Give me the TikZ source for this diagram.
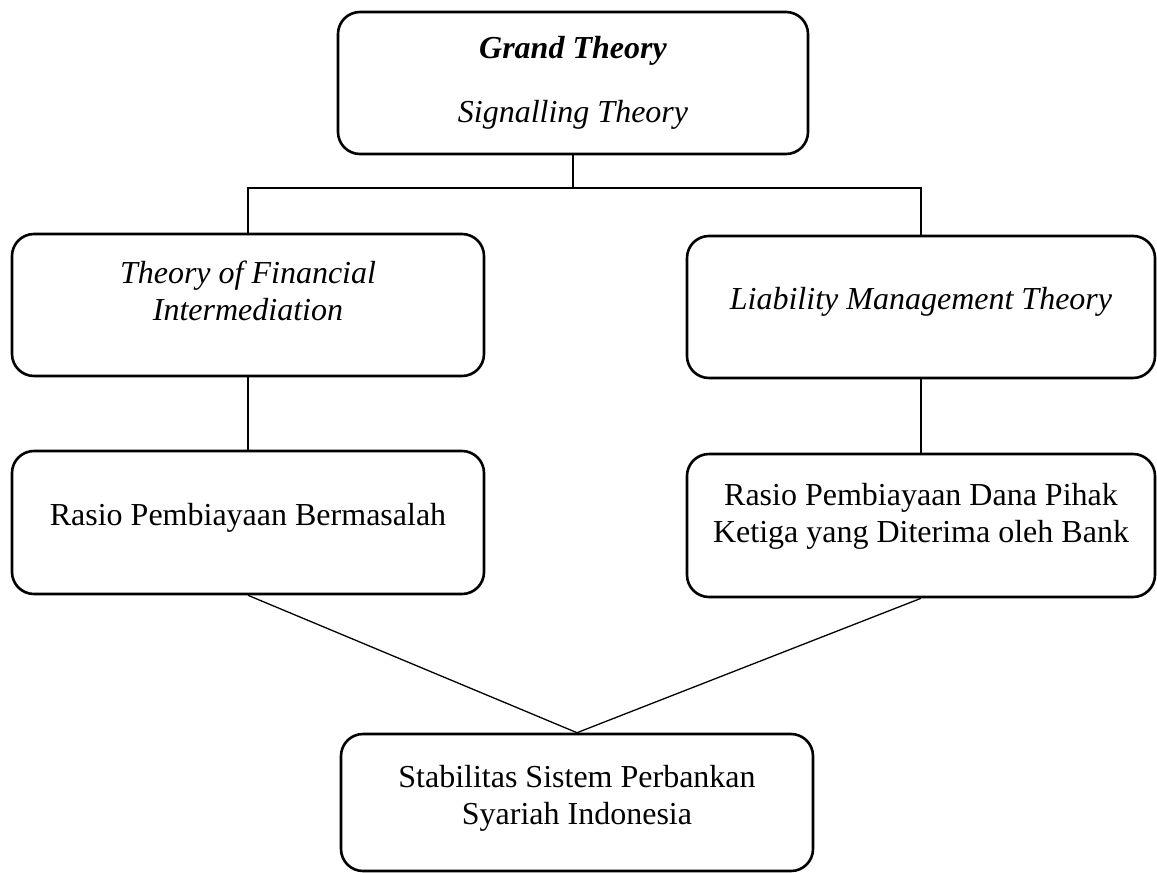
\documentclass[tikz,border=0pt]{standalone}
\usepackage{fontspec}
\setmainfont{Liberation Serif}
\begin{document}
\begin{tikzpicture}[x=1pt,y=-1pt,
  box/.style={draw=black, line width=2.6pt, rounded corners=22pt, rectangle, inner sep=0pt},
  txt/.style={align=center, inner sep=0pt, font=\fontsize{32}{37}\selectfont},
  link/.style={draw=black, line width=1.3pt}]
\useasboundingbox (0,0) rectangle (1157,873);
% boxes
\node[box, minimum width=470pt, minimum height=142pt] (top) at (573,83) {};
\node[box, minimum width=472pt, minimum height=142pt] (L1) at (248,305) {};
\node[box, minimum width=468pt, minimum height=142pt] (R1) at (921,307) {};
\node[box, minimum width=472pt, minimum height=143pt] (L2) at (248,522.5) {};
\node[box, minimum width=468pt, minimum height=143pt] (R2) at (921,525.5) {};
\node[box, minimum width=472pt, minimum height=137pt] (B) at (577,802.5) {};
% texts
\node[txt] (tg) at (573,51) {\textbf{\textit{Grand Theory}}};
\node[txt] (ts) at (573,115) {\textit{Signalling Theory}};
\node[txt] (tl1) at (248,291) {\textit{Theory of Financial}\\\textit{Intermediation}};
\node[txt] (tr1) at (921,302) {\textit{Liability Management Theory}};
\node[txt] (tl2) at (248,518) {Rasio Pembiayaan Bermasalah};
\node[txt] (tr2) at (921,516) {Rasio Pembiayaan Dana Pihak\\Ketiga yang Diterima oleh Bank};
\node[txt] (tb) at (577,798) {Stabilitas Sistem Perbankan\\Syariah Indonesia};
% connectors
\coordinate (j) at (573,188);
\draw[link] (top.south) -- (j);
\draw[link] (L1.north) |- (j) -| (R1.north);
\draw[link] (L1.south) -- (L2.north);
\draw[link] (R1.south) -- (R2.north);
\draw[link] (L2.south) -- (B.north);
\draw[link] (R2.south) -- (B.north);
\end{tikzpicture}
\end{document}
